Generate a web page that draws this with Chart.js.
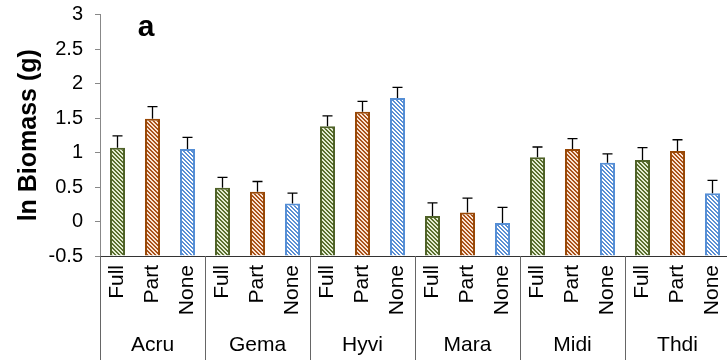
<!DOCTYPE html>
<html lang="en">
<head>
  <meta charset="UTF-8">
  <title>ln Biomass</title>
  <script src="https://cdn.jsdelivr.net/npm/chart.js"></script>
  <style>
    html, body {
      margin: 0;
      padding: 0;
      background: #fff;
      overflow: hidden;
    }
    #wrap {
      width: 727px;
      height: 363px;
      overflow: hidden;
    }
    canvas {
      display: block;
    }
  </style>
</head>
<body>
  <div id="wrap"><canvas id="chart" width="730" height="363"></canvas></div>

  <script>
    const groups = ['Acru', 'Gema', 'Hyvi', 'Mara', 'Midi', 'Thdi'];
    const treatments = ['Full', 'Part', 'None'];
    const full = [1.07, 0.49, 1.38, 0.08, 0.93, 0.89];
    const part = [1.49, 0.43, 1.59, 0.13, 1.05, 1.02];
    const none = [1.05, 0.26, 1.79, -0.02, 0.85, 0.41];
    const fullErr = [0.17, 0.15, 0.15, 0.19, 0.15, 0.18];
    const partErr = [0.175, 0.15, 0.15, 0.21, 0.15, 0.165];
    const noneErr = [0.17, 0.15, 0.155, 0.225, 0.13, 0.185];
    const yTicks = [-0.5, 0, 0.5, 1, 1.5, 2, 2.5, 3];

    // stripe pattern, "\" direction
    function hatch(color, bg) {
      const n = 4;
      const c = document.createElement('canvas');
      c.width = n; c.height = n;
      const g = c.getContext('2d');
      g.fillStyle = bg;
      g.fillRect(0, 0, n, n);
      g.fillStyle = color;
      for (let x = 0; x < n; x++) {
        for (let y = 0; y < n; y++) {
          if (((x - y) % n + n) % n < 2) g.fillRect(x, y, 1, 1);
        }
      }
      return g.createPattern(c, 'repeat');
    }

    const borders = ['#4F6228', '#984807', '#558ED5'];
    const fills = [
      hatch('#5a6f2e', '#e4ecd3'),
      hatch('#a9521a', '#fbe3d2'),
      hatch('#5b8fd4', '#ffffff')
    ];

    const labels = [], values = [], errs = [], bg = [], bd = [];
    groups.forEach((g, i) => {
      [full, part, none].forEach((arr, j) => {
        labels.push(treatments[j]);
        values.push(arr[i]);
        errs.push([fullErr, partErr, noneErr][j][i]);
        bg.push(fills[j]);
        bd.push(borders[j]);
      });
    });

    const extras = {
      id: 'extras',
      afterDatasetsDraw(chart) {
        const ctx = chart.ctx;
        const y = chart.scales.y;
        const meta = chart.getDatasetMeta(0);
        ctx.save();
        ctx.strokeStyle = '#000';
        ctx.lineWidth = 1.3;
        meta.data.forEach((bar, i) => {
          const top = y.getPixelForValue(values[i]);
          const end = y.getPixelForValue(values[i] + errs[i]);
          ctx.beginPath();
          ctx.moveTo(bar.x, top);
          ctx.lineTo(bar.x, end);
          ctx.moveTo(bar.x - 5, end);
          ctx.lineTo(bar.x + 5, end);
          ctx.stroke();
        });
        ctx.restore();
      },
      afterDraw(chart) {
        const ctx = chart.ctx;
        const x = chart.scales.x;
        const area = chart.chartArea;
        const step = (area.right - area.left) / groups.length;
        ctx.save();
        ctx.strokeStyle = '#666';
        ctx.lineWidth = 1;
        for (let k = 0; k < groups.length; k++) {
          const px = Math.round(area.left + k * step) + 0.5;
          ctx.beginPath();
          ctx.moveTo(px, area.bottom);
          ctx.lineTo(px, 360);
          ctx.stroke();
        }
        ctx.fillStyle = '#000';
        ctx.font = '21px "Liberation Sans", Arial, sans-serif';
        ctx.textAlign = 'center';
        ctx.textBaseline = 'middle';
        groups.forEach((g, k) => {
          ctx.fillText(g, x.getPixelForValue(k * 3 + 1), 345);
        });
        ctx.font = 'bold 30px "Liberation Sans", Arial, sans-serif';
        ctx.fillText('a', 146, 28);
        ctx.restore();
      }
    };

    new Chart(document.getElementById('chart'), {
      type: 'bar',
      data: {
        labels: labels,
        datasets: [{
          data: values,
          base: -0.5,
          backgroundColor: bg,
          borderColor: bd,
          borderWidth: 2,
          barPercentage: 0.43,
          categoryPercentage: 1
        }]
      },
      options: {
        responsive: false,
        animation: false,
        layout: { padding: { top: 14.5, left: 0, right: 0, bottom: 0 } },
        plugins: {
          legend: { display: false },
          tooltip: { enabled: false }
        },
        scales: {
          x: {
            afterFit(scale) {
              scale.height = 107;
              scale.paddingLeft = 0;
              scale.paddingRight = 0;
            },
            grid: { display: false, drawTicks: false },
            border: { display: true, color: '#333', width: 1 },
            ticks: {
              minRotation: 90,
              maxRotation: 90,
              padding: 9,
              color: '#000',
              font: { family: '"Liberation Sans", Arial, sans-serif', size: 21 }
            }
          },
          y: {
            min: -0.5,
            max: 3,
            afterFit(scale) {
              scale.width = 100;
              scale.paddingTop = 0;
              scale.paddingBottom = 0;
            },
            afterBuildTicks(scale) { scale.ticks = yTicks.map(v => ({ value: v })); },
            grid: { drawOnChartArea: false, drawTicks: true, tickLength: 5, color: '#888' },
            border: { display: true, color: '#888', width: 1 },
            title: {
              display: true,
              text: 'ln Biomass (g)',
              color: '#000',
              font: { family: '"Liberation Sans", Arial, sans-serif', size: 25, weight: 'bold' },
              padding: { top: 14, bottom: 0 }
            },
            ticks: {
              padding: 12,
              color: '#000',
              font: { family: '"Liberation Sans", Arial, sans-serif', size: 20 },
              callback: v => String(v)
            }
          }
        }
      },
      plugins: [extras]
    });
  </script>
</body>
</html>
